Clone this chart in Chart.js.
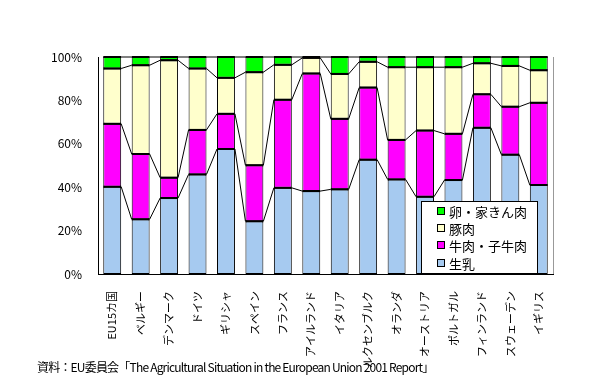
<!DOCTYPE html>
<html>
<head>
<meta charset="utf-8">
<script src="https://cdn.jsdelivr.net/npm/chart.js"></script>
<style>
  body { margin: 0; background: #fff; }
  #wrap { position: relative; width: 606px; height: 384px; }
  #src { position: absolute; left: 37px; top: 358px; font: 12px "Noto Sans CJK JP", sans-serif; color: #000; letter-spacing: -0.8px; white-space: nowrap; }
</style>
</head>
<body>
<div id="wrap">
  <canvas id="c" width="606" height="384"></canvas>
  <div id="src">資料：EU委員会「The Agricultural Situation in the European Union 2001 Report」</div>
</div>
<script>
var countries = ["EU15カ国", "ベルギー", "デンマーク", "ドイツ", "ギリシャ", "スペイン", "フランス", "アイルランド",
  "イタリア", "ルクセンブルク", "オランダ", "オーストリア", "ポルトガル", "フィンランド", "スウェーデン", "イギリス"];

// 構成比 (%)
var milk  = [40.2, 25.2, 35.0, 45.9, 57.6, 24.3, 39.7, 38.2, 39.0, 52.7, 43.6, 35.6, 43.3, 67.4, 55.0, 41.0];
var beef  = [29.0, 30.1,  9.4, 20.5, 16.2, 25.8, 40.6, 54.2, 32.5, 33.2, 18.2, 30.5, 21.3, 15.4, 22.1, 37.9];
var pork  = [25.5, 40.9, 54.1, 28.3, 16.6, 42.9, 16.1,  7.2, 20.7, 11.9, 33.5, 29.2, 30.7, 14.3, 18.8, 15.0];
var egg   = [ 5.3,  3.8,  1.5,  5.3,  9.6,  7.0,  3.6,  0.4,  7.8,  2.2,  4.7,  4.7,  4.7,  2.9,  4.1,  6.1];

var seriesLabels = ["生乳", "牛肉・子牛肉", "豚肉", "卵・家きん肉"];
var seriesColors = ["#A6CAF0", "#FF00FF", "#FFFFCC", "#00FF00"];
var yTicks = [0, 20, 40, 60, 80, 100];

var FONT = '"Noto Sans CJK JP", sans-serif';

// 系列線と区切り線
var seriesLinePlugin = {
  id: 'seriesLines',
  afterDatasetsDraw: function (chart) {
    var ctx = chart.ctx;
    ctx.save();
    ctx.strokeStyle = '#000';
    chart.data.datasets.forEach(function (ds, k) {
      var meta = chart.getDatasetMeta(k);
      ctx.lineWidth = 1;
      for (var i = 0; i < meta.data.length - 1; i++) {
        var a = meta.data[i], b = meta.data[i + 1];
        ctx.beginPath();
        ctx.moveTo(a.x + a.width / 2, a.y);
        ctx.lineTo(b.x - b.width / 2, b.y);
        ctx.stroke();
      }
      ctx.lineWidth = 2;
      meta.data.forEach(function (el) {
        ctx.beginPath();
        ctx.moveTo(el.x - el.width / 2, el.y);
        ctx.lineTo(el.x + el.width / 2, el.y);
        ctx.stroke();
      });
    });
    // plot area right border
    var ca = chart.chartArea;
    ctx.lineWidth = 1;
    ctx.strokeStyle = '#999';
    ctx.beginPath();
    ctx.moveTo(ca.right + 0.5, ca.top);
    ctx.lineTo(ca.right + 0.5, ca.bottom);
    ctx.stroke();
    ctx.restore();
  }
};

// 凡例 (プロットエリア内)
var boxLegendPlugin = {
  id: 'boxLegend',
  afterDraw: function (chart) {
    var ctx = chart.ctx, ca = chart.chartArea;
    var w = 116, h = 72;
    var x = Math.round(ca.right - 16 - w), y = Math.round(ca.bottom - 1.5 - h);
    ctx.save();
    ctx.fillStyle = '#fff';
    ctx.fillRect(x, y, w, h);
    ctx.strokeStyle = '#000';
    ctx.lineWidth = 1;
    ctx.strokeRect(x + 0.5, y + 0.5, w, h);
    ctx.font = '13px ' + FONT;
    ctx.textBaseline = 'middle';
    var rowY = [10, 27, 44, 62];
    for (var r = 0; r < 4; r++) {
      var k = 3 - r;
      var cy = y + rowY[r];
      ctx.fillStyle = seriesColors[k];
      ctx.fillRect(x + 16, cy - 3, 7, 7);
      ctx.strokeStyle = '#000';
      ctx.strokeRect(x + 16.5, cy - 3.5, 7, 7);
      ctx.fillStyle = '#000';
      ctx.fillText(chart.data.datasets[k].label, x + 28, cy + 1);
    }
    ctx.restore();
  }
};

new Chart(document.getElementById('c'), {
  type: 'bar',
  data: {
    labels: countries,
    datasets: [milk, beef, pork, egg].map(function (d, k) {
      return {
        label: seriesLabels[k],
        data: d,
        backgroundColor: seriesColors[k],
        borderColor: '#000',
        borderWidth: 1,
        borderSkipped: false,
        categoryPercentage: 1.0,
        barPercentage: 0.63
      };
    })
  },
  options: {
    responsive: false,
    animation: false,
    layout: { padding: { top: 57, right: 53, left: 0, bottom: 0 } },
    plugins: {
      legend: { display: false },
      tooltip: { enabled: false }
    },
    scales: {
      x: {
        stacked: true,
        grid: { display: false },
        border: { display: true, color: '#000', width: 1 },
        ticks: {
          color: '#000',
          font: { family: FONT, size: 11 },
          minRotation: 90,
          maxRotation: 90,
          autoSkip: false,
          padding: 9
        },
        afterFit: function (s) { s.height = 110; }
      },
      y: {
        stacked: true,
        min: 0,
        max: 100,
        grid: { display: false },
        border: { display: true, color: '#000', width: 1 },
        afterBuildTicks: function (s) { s.ticks = yTicks.map(function (v) { return { value: v }; }); },
        ticks: {
          color: '#000',
          font: { family: FONT, size: 12 },
          padding: 8,
          callback: function (v) { return v + '%'; }
        },
        afterFit: function (s) { s.width = 98; }
      }
    }
  },
  plugins: [seriesLinePlugin, boxLegendPlugin]
});
</script>
</body>
</html>
